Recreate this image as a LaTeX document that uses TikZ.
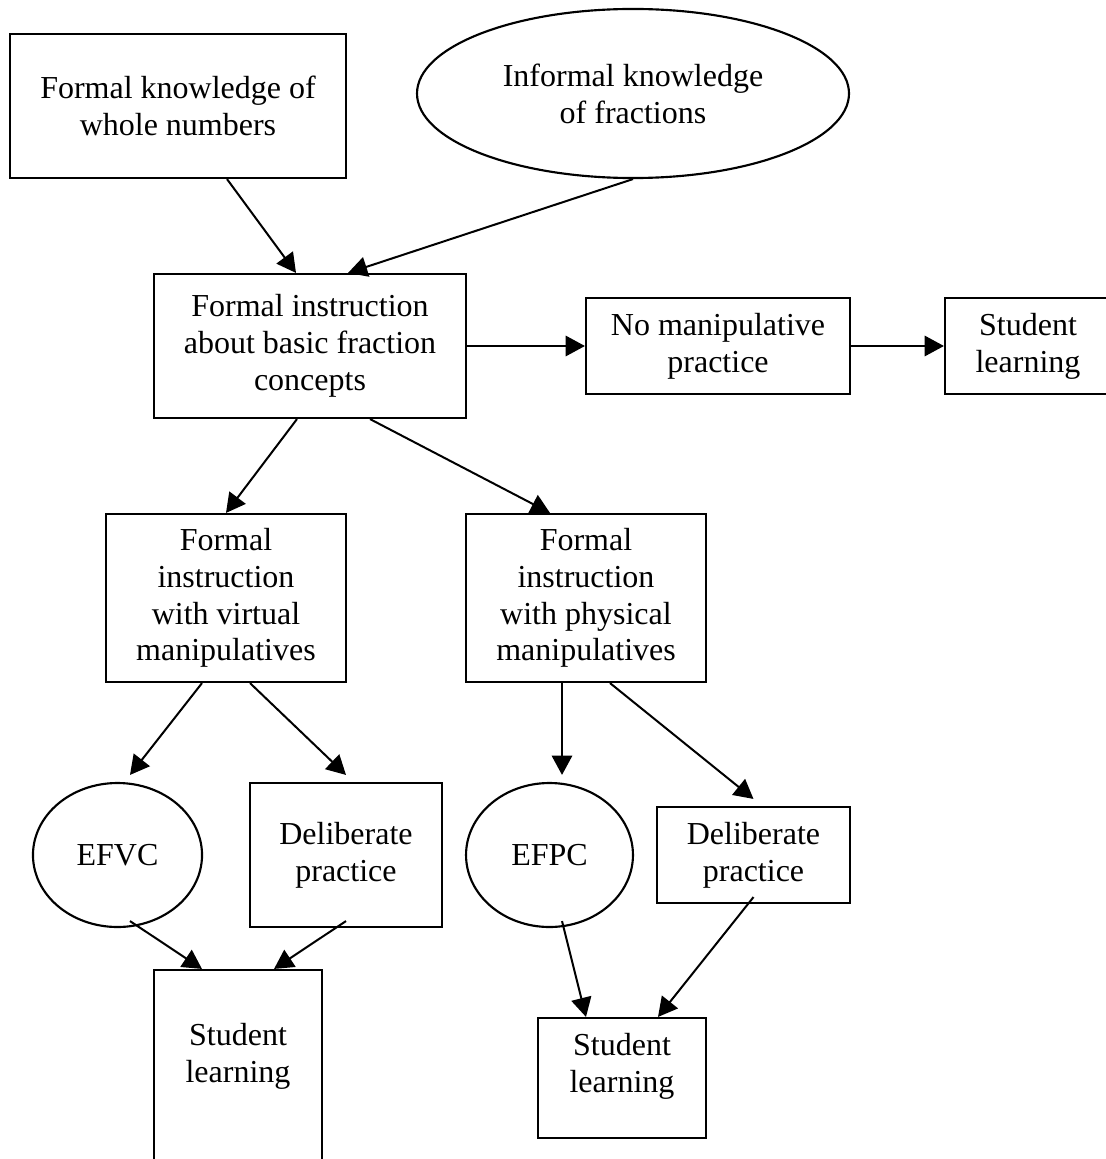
\documentclass[tikz,border=0pt]{standalone}
\usepackage{fontspec}
\setmainfont{Liberation Serif}
\usetikzlibrary{shapes.geometric,arrows.meta,calc}

\begin{document}
\begin{tikzpicture}[x=0.375pt,y=-0.375pt,
	every node/.style={font=\fontsize{12}{13.8}\selectfont},
	box/.style={draw, line width=0.8pt, rectangle, align=center, inner sep=0pt},
	oval/.style={draw, line width=0.8pt, ellipse, align=center, inner sep=0pt},
	arr/.style={line width=0.75pt, -{Triangle[length=7.2pt,width=7.6pt]}}]
\useasboundingbox (0,0) rectangle (1105,1159);
%----------------------------------------------------------
	% Knowledge
	%------------------------------------------------------
	\node[box, minimum width=126pt, minimum height=54pt] (FormWhole) at (178,106) {Formal knowledge of\\whole numbers};
	\node[oval, minimum width=162pt, minimum height=63.4pt] (InfFrac) at (633,93.5) {Informal knowledge\\of fractions};
	
	%Instruction
	%------------------------------------------------------
	\node[box, minimum width=117pt, minimum height=54pt] (FormBasic) at (310,346) {Formal instruction\\about basic fraction\\concepts};
	\node[box, minimum width=99pt, minimum height=36pt] (NoManip) at (718,346) {No manipulative\\practice};
	\node[box, minimum width=62.25pt, minimum height=36pt] (LearnTop) at (1028,346) {Student\\learning};
	\node[box, minimum width=90pt, minimum height=63pt] (FormVirt) at (226,598) {Formal\\instruction\\with virtual\\manipulatives};
	\node[box, minimum width=90pt, minimum height=63pt] (FormPhys) at (586,598) {Formal\\instruction\\with physical\\manipulatives};
	
	%Practice
	%------------------------------------------------------
	\node[oval, minimum width=63.4pt, minimum height=54pt] (EFVC) at (117.5,855) {EFVC};
	\node[box, minimum width=72pt, minimum height=54pt] (DelibVirt) at (346,855) {Deliberate\\practice};
	\node[oval, minimum width=62.6pt, minimum height=54pt] (EFPC) at (549.5,855) {EFPC};
	\node[box, minimum width=72.4pt, minimum height=36pt] (DelibPhys) at (753.5,855) {Deliberate\\practice};
	
	%Learning
	\node[box, minimum width=63pt, minimum height=82.5pt, label={[align=center,yshift=9pt]center:Student\\learning}] (LearnVirt) at (238,1080) {};
	\node[box, minimum width=63pt, minimum height=45pt, label={[align=center,yshift=4.5pt]center:Student\\learning}] (LearnPhys) at (622,1078) {};
	
	%Arrows
	%------------------------------------------------------
	\draw[arr] ($(FormWhole.south)+(49,0)$) -- ($(FormBasic.north)+(-14,0)$);
	\draw[arr] (InfFrac.south) -- ($(FormBasic.north)+(38,0)$);
	\draw[arr] (FormBasic.east) -- (NoManip.west);
	\draw[arr] (NoManip.east) -- (LearnTop.west);
	
	\draw[arr] ($(FormBasic.south)+(-13,0)$) -- (FormVirt.north);
	\draw[arr] ($(FormBasic.south)+(60,0)$) -- ($(FormPhys.north)+(-36,0)$);
	
	\draw[arr] ($(FormVirt.south)+(-24,0)$) -- ($(EFVC.north)+(12.5,-7)$);
	\draw[arr] ($(FormVirt.south)+(24,0)$) -- ($(DelibVirt.north)+(0,-7)$);
	\draw[arr] ($(FormPhys.south)+(-24,0)$) -- ($(EFPC.north)+(12.5,-7)$);
	\draw[arr] ($(FormPhys.south)+(24,0)$) -- ($(DelibPhys.north)+(0,-7)$);
	
	\draw[arr] ($(EFVC.south)+(12.5,-7)$) -- ($(LearnVirt.north)+(-36,0)$);
	\draw[arr] ($(DelibVirt.south)+(0,-7)$) -- ($(LearnVirt.north)+(36,0)$);
	\draw[arr] ($(EFPC.south)+(12.5,-7)$) -- ($(LearnPhys.north)+(-36,0)$);
	\draw[arr] ($(DelibPhys.south)+(0,-7)$) -- ($(LearnPhys.north)+(36,0)$);
	 
\end{tikzpicture}
\end{document}
